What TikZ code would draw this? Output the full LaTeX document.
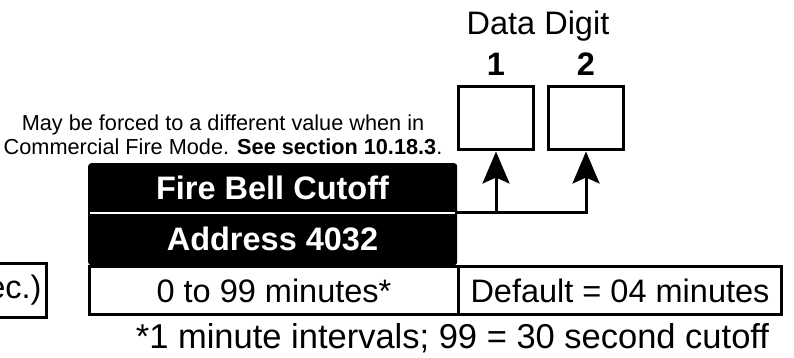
\documentclass[tikz,border=0pt]{standalone}
\usepackage{fontspec}
\setmainfont{Liberation Sans}
\usetikzlibrary{arrows.meta}
\begin{document}
\begin{tikzpicture}[x=1pt,y=-1pt,
  box/.style={draw=black, line width=3pt, inner sep=0pt},
  big/.style={font=\fontsize{32.5}{36}\selectfont},
  bigb/.style={font=\fontsize{32.5}{36}\selectfont\bfseries},
  small/.style={font=\fontsize{21.7}{24}\selectfont},
  wire/.style={line width=3pt, line cap=rect},
  tip/.style={-{Stealth[length=32pt,width=27pt,inset=6pt]}}
]
\useasboundingbox (0,0) rectangle (794,358);
\clip (0,0) rectangle (794,358);

% title block
\node[fill=black, rounded corners=3pt, minimum width=369pt, minimum height=102pt,
      anchor=north west, inner sep=0pt] (title) at (88,163) {};
\node[bigb, text=white] (name) at (272.5,188) {Fire Bell Cutoff};
\node[bigb, text=white] (addr) at (272.5,239) {Address 4032};
\coordinate (sepL) at (90,213);
\coordinate (sepR) at (455,213);
\draw[white, line width=2pt] (sepL) -- (sepR);

% value row
\node[box, big, minimum width=369pt, minimum height=48pt, anchor=north west] (range) at (88,265) {0 to 99 minutes*};
\node[box, big, minimum width=323pt, minimum height=48pt, anchor=north west] (default) at (457,265) {Default = 04 minutes};

% cut-off unit box
\node[box, big, anchor=north east, minimum height=54pt, text width=130pt, align=right, inner xsep=5pt] (unit) at (48,262) {ec.)};

% footnote
\node[font=\fontsize{34.5}{38}\selectfont] (foot) at (452.5,338) {*1 minute intervals; 99 = 30 second cutoff};

% note
\node[small, align=center] (note) at (223,135) {May be forced to a different value when in\\Commercial Fire Mode. \textbf{See section 10.18.3}.};

% data digits
\node[big] (dd) at (538,26) {Data Digit};
\node[box, minimum width=75pt, minimum height=63pt] (d1) at (496,118.5) {};
\node[box, minimum width=75pt, minimum height=63pt] (d2) at (586,118.5) {};
\node[bigb] (n1) at (d1 |- 0,64) {1};
\node[bigb] (n2) at (d2 |- 0,64) {2};

% connectors
\coordinate (j) at (title.east |- 0,212);
\draw[wire, tip] (j) -| (d2.south);
\draw[wire, tip] (d1.south |- j) -- (d1.south);
\end{tikzpicture}
\end{document}
